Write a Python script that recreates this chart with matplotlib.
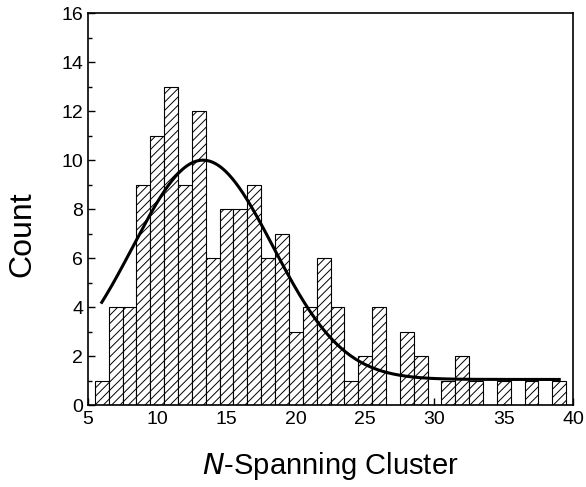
import matplotlib
matplotlib.use("Agg")
import matplotlib.pyplot as plt
import numpy as np
from matplotlib.ticker import MultipleLocator

plt.rcParams['font.family'] = ['Liberation Sans', 'DejaVu Sans']
plt.rcParams['hatch.linewidth'] = 0.7

# Histogram data: bin centres and counts
bin_centers = [6, 7, 8, 9, 10, 11, 12, 13, 14, 15, 16, 17, 18, 19, 20, 21, 22,
               23, 24, 25, 26, 27, 28, 29, 30, 31, 32, 33, 34, 35, 36, 37, 38, 39]
counts = [1, 4, 4, 9, 11, 13, 9, 12, 6, 8, 8, 9, 6, 7, 3, 4, 6,
          4, 1, 2, 4, 0, 3, 2, 0, 1, 2, 1, 0, 1, 0, 1, 0, 1]

# Gaussian fit parameters (y0 + A*exp(-(x-xc)^2/(2 w^2)))
fit_y0 = 1.05
fit_A = 8.95
fit_xc = 13.3
fit_w = 5.05
fit_range = (6, 39)

x_ticks = [5, 10, 15, 20, 25, 30, 35, 40]
y_ticks = [0, 2, 4, 6, 8, 10, 12, 14, 16]

fig = plt.figure(figsize=(5.86, 4.87), dpi=100)
ax = fig.add_axes([0.150, 0.168, 0.828, 0.805])

ax.bar(bin_centers, counts, width=1.0, facecolor='white', edgecolor='black',
       linewidth=0.8, hatch='////', zorder=2)

xf = np.linspace(fit_range[0], fit_range[1], 400)
yf = fit_y0 + fit_A * np.exp(-(xf - fit_xc) ** 2 / (2 * fit_w ** 2))
ax.plot(xf, yf, color='black', linewidth=2.2, zorder=3)

ax.set_xlim(5, 40)
ax.set_ylim(0, 16)
ax.set_xticks(x_ticks)
ax.set_yticks(y_ticks)
ax.yaxis.set_minor_locator(MultipleLocator(1))
ax.tick_params(axis='both', which='major', direction='in', length=5, width=1,
               labelsize=14, top=False, right=False)
ax.tick_params(axis='y', which='minor', direction='in', length=3, width=1)
ax.tick_params(axis='x', which='major', pad=4)

for s in ax.spines.values():
    s.set_linewidth(1.2)

ax.set_xlabel(r'$\mathit{N}$-Spanning Cluster', fontsize=21, labelpad=16)
ax.set_ylabel('Count', fontsize=23)
ax.yaxis.set_label_coords(-0.105, 0.436)

fig.savefig('out.png', dpi=100)
